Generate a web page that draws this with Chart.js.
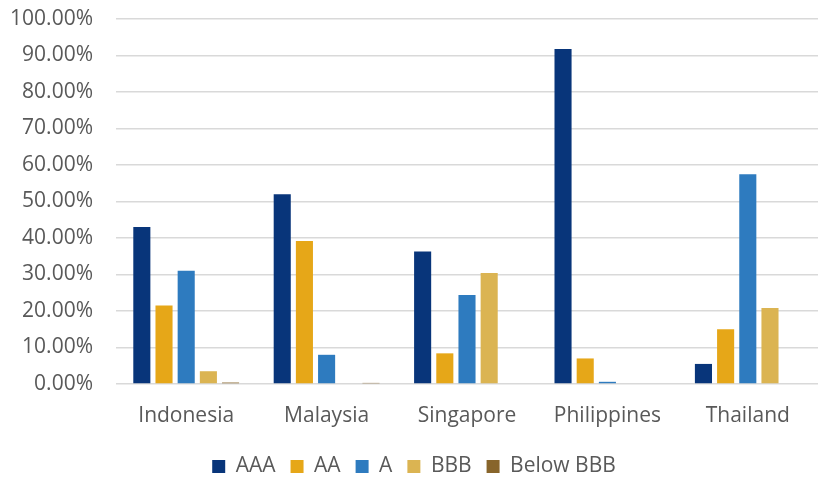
<!DOCTYPE html>
<html>
<head>
<meta charset="utf-8">
<script src="https://cdn.jsdelivr.net/npm/chart.js@4/dist/chart.umd.min.js"></script>
<style>
  html, body { margin: 0; padding: 0; background: #fff; }
  #wrap { width: 818px; height: 479px; }
</style>
</head>
<body>
<div id="wrap"><canvas id="chart" width="818" height="479"></canvas></div>
<script>
const countries = ['Indonesia', 'Malaysia', 'Singapore', 'Philippines', 'Thailand'];
const aaa = [43.0, 52.0, 36.3, 91.8, 5.5];
const aa = [21.5, 39.2, 8.4, 7.0, 15.0];
const singleA = [31.0, 8.0, 24.4, 0.6, 57.5];
const bbb = [3.5, 0.2, 30.4, 0, 20.8];
const belowBbb = [0.4, 0.3, 0, 0, 0.2];

const ds = (label, data, color) => ({
    label: label,
    data: data,
    backgroundColor: color,
    borderWidth: 0
});

Chart.defaults.font.family = '"Open Sans", Lato, sans-serif';
Chart.defaults.color = '#595959';

new Chart(document.getElementById('chart'), {
    type: 'bar',
    data: {
        labels: countries,
        datasets: [
            ds('AAA', aaa, '#08357a'),
            ds('AA', aa, '#e6a718'),
            ds('A', singleA, '#2e7bbf'),
            ds('BBB', bbb, '#dbb452'),
            ds('Below BBB', belowBbb, '#88652b')
        ]
    },
    options: {
        responsive: false,
        animation: false,
        layout: { padding: { left: 10, right: 0, top: 0, bottom: 0 } },
        datasets: { bar: { categoryPercentage: 0.79, barPercentage: 0.77 } },
        plugins: {
            legend: {
                position: 'bottom',
                maxHeight: 38,
                labels: { boxWidth: 13, boxHeight: 13, padding: 15, font: { size: 21 } }
            },
            tooltip: { enabled: false }
        },
        scales: {
            x: {
                grid: { display: false, drawTicks: false },
                border: { display: false },
                ticks: { font: { size: 21 }, padding: 19, maxRotation: 0 },
                afterFit: s => { s.height = 57; }
            },
            y: {
                min: 0,
                max: 100,
                ticks: { stepSize: 10, font: { size: 21 }, padding: 23, callback: v => v.toFixed(2) + '%' },
                grid: { color: '#d9d9d9', lineWidth: 1.5, drawTicks: false },
                border: { display: false },
                afterFit: s => { s.width = 106; s.paddingTop = 19; s.paddingBottom = 12; }
            }
        }
    }
});
</script>
</body>
</html>
